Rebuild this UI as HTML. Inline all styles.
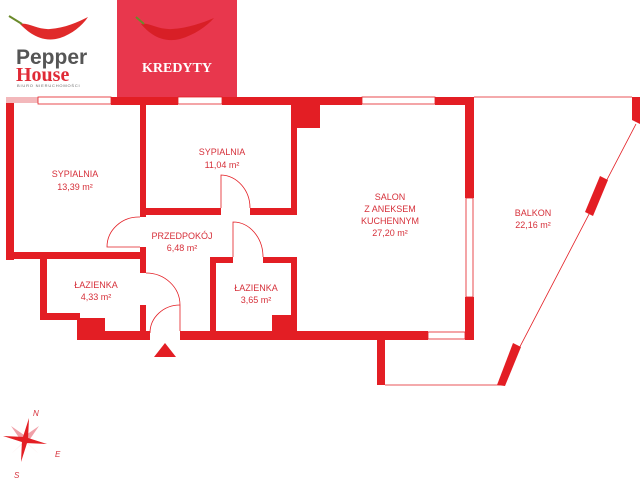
<!DOCTYPE html>
<html><head><meta charset="utf-8"><style>
html,body{margin:0;padding:0;background:#fff;}
svg{display:block;}
text{font-family:"Liberation Sans",sans-serif;}
</style></head><body>
<svg width="640" height="480" viewBox="0 0 640 480" xmlns="http://www.w3.org/2000/svg">
<!-- logo -->
<path d="M20 24 C26 30 40 44 60 38 C72 34 82 26 88 17 C78 22 65 28 50 29 C38 30 28 22 20 24 Z" fill="#e02a2a"/>
<path d="M9 16 L22 24" stroke="#6a8a2a" stroke-width="2"/>
<text x="16" y="64" font-size="21" font-weight="bold" fill="#555">Pepper</text>
<text x="16" y="81" font-size="20" font-weight="bold" fill="#e02a36" style="font-family:'Liberation Serif',serif">House</text>
<text x="17" y="87" font-size="4" fill="#666" letter-spacing="0.8">BIURO NIERUCHOMOŚCI</text>
<!-- kredyty -->
<rect x="117" y="0" width="120" height="97" fill="#e8374d"/>
<path d="M141 24 C147 31 160 44 180 39 C194 35 206 27 214 18 C202 23 188 28 172 29 C158 30 149 22 141 24 Z" fill="#d81f26"/>
<path d="M136 17 L144 24" stroke="#6a8a2a" stroke-width="2"/>
<text x="177" y="72" font-size="14" font-weight="bold" fill="#fff" text-anchor="middle" style="font-family:'Liberation Serif',serif">KREDYTY</text>

<g fill="#e31e24">
<rect x="6" y="97" width="32" height="6" fill="#f3b8bb"/>
<rect x="111" y="97" width="67" height="8"/>
<rect x="222" y="97" width="140" height="8"/>
<rect x="435" y="97" width="39" height="8"/>
<rect x="292" y="97" width="28" height="31"/>
<rect x="6" y="103" width="8" height="157"/>
<rect x="140" y="103" width="6" height="114"/>
<rect x="140" y="247" width="6" height="26"/>
<rect x="140" y="305" width="6" height="30"/>
<rect x="6" y="252" width="140" height="7"/>
<rect x="140" y="208" width="81" height="7"/>
<rect x="250" y="208" width="47" height="7"/>
<rect x="291" y="103" width="6" height="107"/>
<rect x="291" y="257" width="6" height="83"/>
<rect x="40" y="252" width="7" height="68"/>
<rect x="40" y="313" width="40" height="7"/>
<rect x="77" y="318" width="28" height="22"/>
<rect x="77" y="331" width="73" height="9"/>
<rect x="180" y="331" width="248" height="9"/>
<rect x="210" y="257" width="6" height="76"/>
<rect x="210" y="257" width="23" height="6"/>
<rect x="263" y="257" width="34" height="6"/>
<rect x="272" y="315" width="25" height="20"/>
<rect x="465" y="97" width="9" height="101"/>
<rect x="465" y="297" width="9" height="43"/>
<rect x="377" y="340" width="8" height="45"/>
<polygon points="632,97 640,97 640,124 632,120"/>
<polygon points="600,176 608,180 593,216 585,212"/>
<polygon points="513,343 521,347 505,386 497,385"/>
<polygon points="154,357 176,357 165,343"/>
</g>
<g fill="none" stroke="#e31e24" stroke-width="0.8">
<rect x="38" y="97" width="73" height="7"/>
<rect x="178" y="97" width="44" height="7"/>
<rect x="362" y="97" width="73" height="7"/>
<rect x="466" y="198" width="7" height="99"/>
<rect x="428" y="332" width="37" height="7"/>
<path d="M474 97 L632 97 M636 124 L500 385 L385 385"/>
<path d="M140 217 A32 30 0 0 0 107 247 L140 247"/>
<path d="M221 208 L221 175 A30 33 0 0 1 250 208"/>
<path d="M233 257 L233 222 A30 35 0 0 1 263 257"/>
<path d="M146 273 A34 32 0 0 1 180 305 L180 331"/>
<path d="M180 305 A30 28 0 0 0 150 333"/>
</g>
<g fill="#d6303a" font-size="9" text-anchor="middle">
<text x="75" y="177">SYPIALNIA</text><text x="75" y="190">13,39 m²</text>
<text x="222" y="155">SYPIALNIA</text><text x="222" y="168">11,04 m²</text>
<text x="182" y="239">PRZEDPOKÓJ</text><text x="182" y="251">6,48 m²</text>
<text x="96" y="288">ŁAZIENKA</text><text x="96" y="300">4,33 m²</text>
<text x="256" y="291">ŁAZIENKA</text><text x="256" y="303">3,65 m²</text>
<text x="390" y="200">SALON</text><text x="390" y="212">Z ANEKSEM</text><text x="390" y="224">KUCHENNYM</text><text x="390" y="236">27,20 m²</text>
<text x="533" y="216">BALKON</text><text x="533" y="228">22,16 m²</text>
</g>
<g transform="translate(25,440)">
<g fill="#f0a0a8"><polygon points="-14,-14 -3,2 2,-3"/><polygon points="14,-14 3,2 -2,-3"/><polygon points="-14,14 3,-2 -2,3"/><polygon points="14,14 -3,-2 2,3"/></g>
<g fill="#e31e24"><polygon points="4,-22 -3,0 3,0"/><polygon points="-4,22 3,0 -3,0"/><polygon points="-22,-4 0,3 0,-3"/><polygon points="22,4 0,-3 0,3"/></g>
<text x="8" y="-24" font-size="8" font-style="italic" fill="#d6303a">N</text>
<text x="30" y="17" font-size="8" font-style="italic" fill="#d6303a">E</text>
<text x="-11" y="38" font-size="8" font-style="italic" fill="#d6303a">S</text>
</g>
</svg>
</body></html>
